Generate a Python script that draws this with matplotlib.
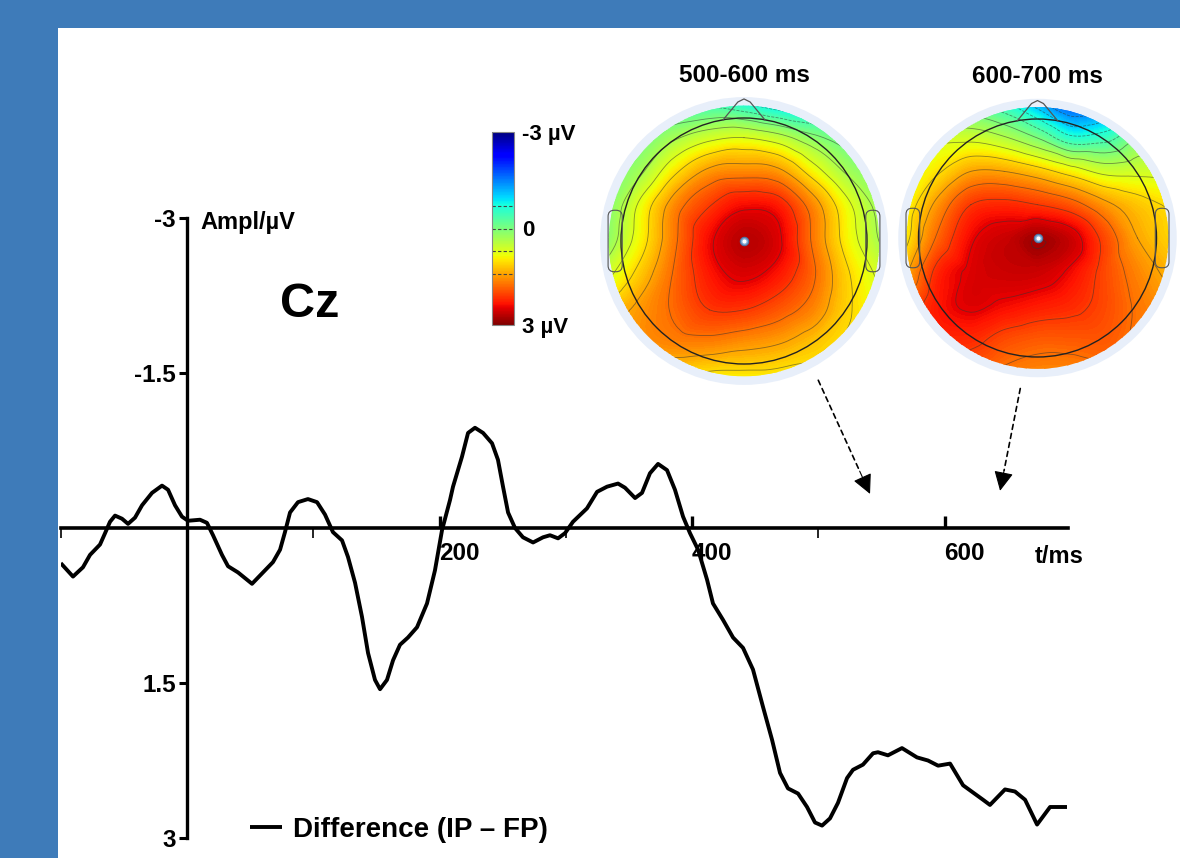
import numpy as np
import matplotlib
matplotlib.use("Agg")
from matplotlib import pyplot as plt
import matplotlib.tri as mtri
from matplotlib.patches import Circle, FancyBboxPatch, Rectangle
from matplotlib.colors import Normalize
from matplotlib.cm import ScalarMappable

plt.rcParams["font.family"] = ["Liberation Sans", "DejaVu Sans"]
plt.rcParams["font.weight"] = "bold"

# ERP difference wave at Cz (positive values plotted downwards)
TIME_MS = [-100, -90.3, -82.4, -76.8, -68.9, -64.9, -61.0, -57.0, -51.5, -46.7,
           -41.2, -35.6, -27.7, -19.8, -15.0, -9.5, -4.0, 0.8, 10.3, 15.8,
           20.6, 27.7, 32.5, 40.4, 51.5, 59.4, 68.1, 73.7, 77.6, 81.6,
           87.9, 95.8, 103.0, 109.3, 115.6, 122.8, 127.5, 133.1, 138.6, 143.4,
           148.9, 152.9, 158.4, 163.2, 168.7, 175.0, 182.2, 190.1, 196.4, 202.0,
           208.3, 210.7, 217.8, 222.6, 228.1, 234.5, 241.6, 246.3, 250.3, 254.3,
           259.8, 266.1, 274.1, 282.0, 287.5, 293.9, 299.4, 305.7, 316.8, 324.8,
           332.7, 341.4, 346.9, 354.9, 360.4, 366.7, 373.1, 380.2, 386.5, 392.9,
           398.4, 404.8, 411.9, 416.6, 424.6, 432.5, 440.4, 448.3, 456.2, 463.4,
           469.7, 476.0, 484.0, 491.1, 497.4, 503.0, 509.3, 515.6, 522.8, 527.5,
           535.4, 543.4, 547.3, 555.2, 566.3, 578.2, 586.9, 594.9, 604.4, 614.7,
           622.6, 630.5, 636.0, 647.9, 655.8, 663.8, 673.3, 683.6, 697.0]
AMPL_UV = [0.34, 0.47, 0.38, 0.26, 0.16, 0.05, -0.06, -0.12, -0.09, -0.04,
           -0.10, -0.22, -0.34, -0.41, -0.37, -0.22, -0.11, -0.07, -0.08, -0.05,
           0.07, 0.26, 0.37, 0.43, 0.54, 0.44, 0.33, 0.21, 0.04, -0.15,
           -0.25, -0.28, -0.25, -0.13, 0.04, 0.12, 0.28, 0.53, 0.86, 1.21,
           1.47, 1.56, 1.47, 1.28, 1.13, 1.06, 0.96, 0.73, 0.41, 0.02,
           -0.27, -0.40, -0.69, -0.92, -0.97, -0.92, -0.82, -0.66, -0.40, -0.15,
           0.0, 0.09, 0.14, 0.09, 0.07, 0.10, 0.05, -0.06, -0.19, -0.35,
           -0.40, -0.43, -0.39, -0.29, -0.34, -0.53, -0.62, -0.56, -0.37, -0.11,
           0.05, 0.21, 0.50, 0.73, 0.89, 1.06, 1.16, 1.37, 1.73, 2.05,
           2.37, 2.52, 2.57, 2.70, 2.85, 2.88, 2.81, 2.66, 2.42, 2.34,
           2.29, 2.18, 2.17, 2.20, 2.13, 2.22, 2.25, 2.30, 2.28, 2.49,
           2.56, 2.63, 2.68, 2.53, 2.55, 2.63, 2.87, 2.70, 2.70]
SERIES_LABEL = "Difference (IP \u2013 FP)"

X_MAJOR = [200, 400, 600]
X_MAJOR_LABELS = ["200", "400", "600"]
X_MINOR = [-100, 100, 300, 500]
Y_TICKS = [-3, -1.5, 1.5, 3]
Y_TICK_LABELS = ["-3", "-1.5", "1.5", "3"]

# scalp maps: 9x9 grid, rows front->back, columns left->right (head radius = 1)
MAP_TITLES = ["500-600 ms", "600-700 ms"]
MAP_500_600 = [
    [-0.6, -0.6, -0.5, -0.5, -0.7, -1.0, -1.1, -1.0, -0.9],
    [-0.3, -0.1, 0.3, 0.6, 0.7, 0.5, 0.1, -0.2, -0.4],
    [-0.1, 0.3, 1.0, 1.5, 1.6, 1.5, 0.9, 0.3, 0.0],
    [0.0, 0.8, 1.6, 2.1, 2.4, 2.3, 1.6, 0.8, 0.2],
    [0.1, 0.9, 1.7, 2.4, 2.7, 2.5, 1.7, 0.9, 0.3],
    [0.6, 1.2, 1.8, 2.3, 2.5, 2.3, 1.8, 1.1, 0.6],
    [1.2, 1.5, 1.8, 2.1, 2.1, 1.9, 1.6, 1.1, 0.8],
    [1.3, 1.5, 1.6, 1.6, 1.5, 1.4, 1.2, 1.0, 0.9],
    [1.0, 1.1, 1.0, 0.9, 0.9, 0.9, 0.9, 0.9, 0.8],
]
MAP_600_700 = [
    [0.0, -0.2, -0.3, -0.6, -1.2, -1.8, -1.6, -1.0, -0.5],
    [0.5, 0.6, 0.6, 0.4, 0.0, -0.6, -0.5, 0.0, 0.2],
    [0.7, 1.0, 1.4, 1.4, 1.2, 0.9, 0.6, 0.6, 0.6],
    [0.8, 1.5, 2.1, 2.2, 2.1, 1.9, 1.5, 1.2, 1.0],
    [0.9, 1.8, 2.4, 2.6, 2.8, 2.6, 2.0, 1.4, 1.1],
    [1.3, 2.2, 2.5, 2.6, 2.6, 2.4, 2.0, 1.6, 1.3],
    [1.8, 2.3, 2.5, 2.4, 2.3, 2.2, 2.0, 1.7, 1.5],
    [2.0, 2.2, 2.2, 2.0, 1.9, 1.9, 1.9, 1.7, 1.6],
    [2.0, 2.0, 1.9, 1.7, 1.6, 1.6, 1.7, 1.7, 1.6],
]
GRID_HALF = 1.12

CBAR_TICKS = [-3, 0, 3]
CBAR_LABELS = ["-3 \u00b5V", "0", "3 \u00b5V"]
CBAR_DASHES = [-0.7, 0.0, 0.7, 1.4]

ARROW_TAILS = [(500, -1.43), (660, -1.35)]
ARROW_TIPS = [(541, -0.33), (644, -0.36)]

W, H = 1180, 858
BLUE = "#3E7BB9"
HALO = "#E8EFFA"


def px_box(left, top, width, height):
    return [left / W, 1 - (top + height) / H, width / W, height / H]


def draw_topomap(ax, grid, title, pad):
    grid = np.asarray(grid, dtype=float)
    n = grid.shape[0]
    coords = np.linspace(-GRID_HALF, GRID_HALF, n)
    gx, gy = np.meshgrid(coords, coords)
    tri = mtri.Triangulation(gx.ravel(), gy.ravel())
    z = grid[::-1].ravel()
    interp = mtri.CubicTriInterpolator(tri, z, kind="geom")
    tri_f, z_f = mtri.UniformTriRefiner(tri).refine_field(z, triinterpolator=interp, subdiv=3)

    ax.add_patch(Circle((0, 0), 1.17, facecolor=HALO, edgecolor="none", zorder=0))
    clip = Circle((0, 0), 1.1, transform=ax.transData)
    cf = ax.tricontourf(tri_f, z_f, levels=np.linspace(-3.3, 3.3, 181), cmap="jet",
                        vmin=-3, vmax=3, extend="both", antialiased=False, zorder=1)
    cf.set_clip_path(clip)
    cs = ax.tricontour(tri_f, z_f, levels=np.arange(-2.8, 3.0, 0.35),
                       colors="#333333", linewidths=0.6, alpha=0.55, zorder=2)
    cs.set_clip_path(clip)

    ax.add_patch(Circle((0, 0), 1.0, facecolor="none", edgecolor="#222222", lw=1.0, zorder=3))
    ax.plot([-0.17, -0.05, 0, 0.05, 0.17], [0.985, 1.13, 1.155, 1.13, 0.985],
            color="#555555", lw=0.9, zorder=3)
    for x0 in (-1.105, 0.99):
        ax.add_patch(FancyBboxPatch((x0, -0.25), 0.115, 0.5,
                                    boxstyle="round,pad=0,rounding_size=0.05",
                                    facecolor="none", edgecolor="#555555", lw=0.8, zorder=3))
    ax.plot([0], [0], "o", ms=6, mfc="#7FA6D2", mec="#4D74A3", mew=0.8, zorder=4)
    ax.plot([0], [0], "o", ms=2, mfc="white", mec="white", zorder=5)

    ax.set_xlim(-1.25, 1.25)
    ax.set_ylim(-1.25, 1.25)
    ax.set_aspect("equal")
    ax.axis("off")
    ax.set_title(title, fontsize=17.5, fontweight="bold", pad=pad)


def main() -> None:
    fig = plt.figure(figsize=(W / 100, H / 100), dpi=100, facecolor=BLUE)
    fig.patches.append(Rectangle((58 / W, 0), 1 - 58 / W, 1 - 28 / H, transform=fig.transFigure,
                                 facecolor="white", edgecolor="none", zorder=-1))

    ax = fig.add_axes(px_box(60.75, 218, 1007.25, 620))
    ax.patch.set_alpha(0)
    ax.plot(TIME_MS, AMPL_UV, color="black", lw=2.8, solid_joinstyle="round",
            solid_capstyle="butt", label=SERIES_LABEL, zorder=3)
    ax.set_xlim(-100, 697.8)
    ax.set_ylim(3, -3)

    for side in ("top", "right"):
        ax.spines[side].set_visible(False)
    ax.spines["left"].set_position(("data", 0))
    ax.spines["bottom"].set_position(("data", 0))
    ax.spines["left"].set_bounds(-3, 3)
    ax.spines["left"].set_linewidth(2.4)
    ax.spines["bottom"].set_linewidth(2.6)

    ax.set_yticks(Y_TICKS, Y_TICK_LABELS)
    ax.tick_params(axis="y", direction="out", length=6, width=2.2, pad=2, labelsize=17.5)
    ax.set_xticks(X_MAJOR, X_MAJOR_LABELS)
    ax.set_xticks(X_MINOR, minor=True)
    ax.tick_params(axis="x", which="major", direction="in", length=9, width=2.4, pad=10, labelsize=17.5)
    ax.tick_params(axis="x", which="minor", direction="out", length=7, width=1.2)
    for lab in ax.get_xticklabels():
        lab.set_horizontalalignment("left")

    ax.text(10.5, -2.96, "Ampl/\u00b5V", fontsize=17, ha="left", va="center")
    ax.text(671.7, 0.28, "t/ms", fontsize=17, ha="left", va="center")
    ax.text(73.7, -2.04, "Cz", fontsize=35, ha="left", va="baseline")

    # dashed pointers from the maps to their time windows
    for tail, tip in zip(ARROW_TAILS, ARROW_TIPS):
        head_start = (tip[0] - 0.2 * (tip[0] - tail[0]), tip[1] - 0.2 * (tip[1] - tail[1]))
        ax.annotate("", xy=head_start, xytext=tail,
                    arrowprops=dict(arrowstyle="-", linestyle=(0, (3, 2.5)), lw=1.2,
                                    color="black", shrinkA=0, shrinkB=0))
        ax.annotate("", xy=tip, xytext=head_start,
                    arrowprops=dict(arrowstyle="-|>,head_length=0.6,head_width=0.3",
                                    lw=0.8, color="black", mutation_scale=20,
                                    shrinkA=0, shrinkB=0))

    ax.legend(loc="center left", bbox_to_anchor=(250 / W, 1 - 830 / H), bbox_transform=fig.transFigure,
              frameon=False, borderpad=0, borderaxespad=0, handlelength=1.15, handletextpad=0.4,
              prop={"size": 20, "weight": "bold"})

    # scalp maps
    ax_m1 = fig.add_axes(px_box(744 - 153.75, 241 - 153.75, 307.5, 307.5))
    draw_topomap(ax_m1, MAP_500_600, MAP_TITLES[0], pad=3)
    ax_m2 = fig.add_axes(px_box(1037.5 - 148.75, 238 - 148.75, 297.5, 297.5))
    draw_topomap(ax_m2, MAP_600_700, MAP_TITLES[1], pad=4.5)

    # colour bar
    cax = fig.add_axes(px_box(492, 132, 22, 193))
    sm = ScalarMappable(norm=Normalize(-3, 3), cmap="jet")
    cb = fig.colorbar(sm, cax=cax, ticks=CBAR_TICKS)
    cb.ax.invert_yaxis()
    cb.set_ticklabels(CBAR_LABELS)
    cb.ax.tick_params(length=0, pad=6, labelsize=16)
    cb.outline.set_edgecolor("#888888")
    cb.outline.set_linewidth(0.8)
    for v in CBAR_DASHES:
        cax.axhline(v, color="#444444", ls=(0, (3, 2)), lw=0.8)

    fig.savefig("out.png", dpi=100, facecolor=BLUE)


if __name__ == "__main__":
    main()
